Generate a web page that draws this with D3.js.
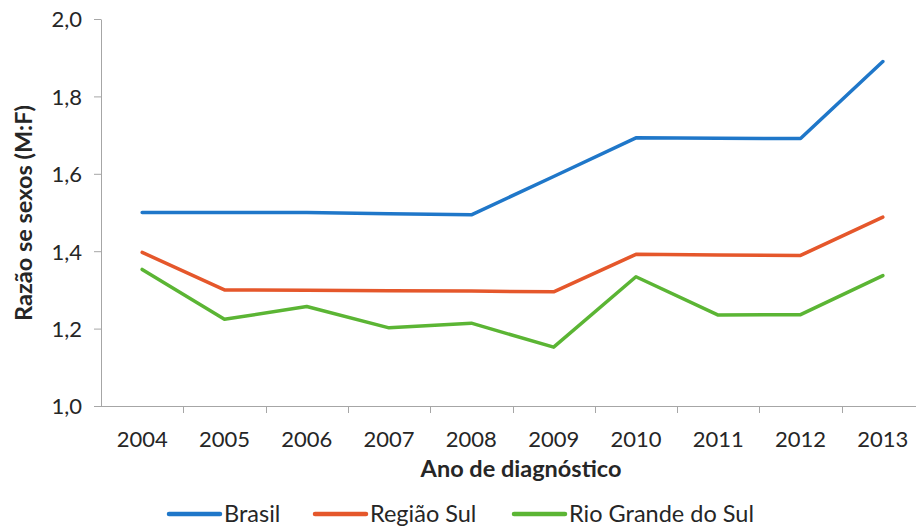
<!DOCTYPE html>
<html>
<head>
<meta charset="utf-8">
<script src="https://cdn.jsdelivr.net/npm/d3@7"></script>
<style>
  body { margin: 0; background: #fff; }
  text { font-family: Lato, "Open Sans", sans-serif; fill: #262626; }
  .axis path, .axis line { stroke: #a6a6a6; }
</style>
</head>
<body>
<div class="chart"></div>
<script>
// Data
var years = ["2004", "2005", "2006", "2007", "2008", "2009", "2010", "2011", "2012", "2013"];
var brasil = [1.50, 1.50, 1.50, 1.497, 1.494, 1.593, 1.693, 1.692, 1.691, 1.89];
var regiaoSul = [1.397, 1.30, 1.299, 1.298, 1.297, 1.295, 1.392, 1.39, 1.389, 1.488];
var rioGrande = [1.353, 1.224, 1.257, 1.202, 1.214, 1.152, 1.334, 1.235, 1.236, 1.337];
var yTicks = [1.0, 1.2, 1.4, 1.6, 1.8, 2.0];

var seriesNames = ["Brasil", "Região Sul", "Rio Grande do Sul"];
var seriesColors = ["#1f77c9", "#e5572b", "#5bb534"];
var seriesValues = [brasil, regiaoSul, rioGrande];

var svgWidth = 916;
var svgHeight = 531;

var svg = d3.select(".chart")
  .append("svg")
  .attr("width", svgWidth)
  .attr("height", svgHeight);

// scales
var xScale = d3.scaleBand()
  .domain(years)
  .range([101, 924])
  .padding(0);

var yScale = d3.scaleLinear()
  .domain([1.0, 2.0])
  .range([406, 19]);

var ptBr = d3.formatLocale({ decimal: ",", thousands: ".", grouping: [3], currency: ["R$", ""] });
var fmt = ptBr.format(".1f");

// y axis
var leftAxis = d3.axisLeft(yScale)
  .tickValues(yTicks)
  .tickFormat(fmt)
  .tickSize(7)
  .tickSizeOuter(0)
  .tickPadding(12);

var yAxis = svg.append("g")
  .attr("class", "axis")
  .attr("transform", "translate(101, 0)")
  .call(leftAxis);
yAxis.selectAll("text").style("font-size", "22px").attr("dy", "0.36em");

// x axis: labels centred in each band, ticks on band edges
var bottomAxis = d3.axisBottom(xScale)
  .tickSize(0)
  .tickPadding(25)
  .tickSizeOuter(0);

var xAxis = svg.append("g")
  .attr("class", "axis")
  .attr("transform", "translate(0, 406)")
  .call(bottomAxis);
xAxis.selectAll("text").style("font-size", "22px");
xAxis.select(".domain").attr("d", "M101,0.5H916");

xAxis.selectAll(".edge-tick")
  .data(years.slice(1))
  .enter()
  .append("line")
  .attr("class", "edge-tick")
  .attr("x1", d => Math.round(xScale(d)) + 0.5)
  .attr("x2", d => Math.round(xScale(d)) + 0.5)
  .attr("y1", 0)
  .attr("y2", 7)
  .attr("stroke", "#a6a6a6");

// lines
var line = d3.line()
  .x((d, i) => xScale(years[i]) + xScale.bandwidth() / 2)
  .y(d => yScale(d));

svg.selectAll(".series")
  .data(seriesValues)
  .enter()
  .append("path")
  .attr("class", "series")
  .attr("d", d => line(d))
  .attr("fill", "none")
  .attr("stroke", (d, i) => seriesColors[i])
  .attr("stroke-width", 3.5)
  .attr("stroke-linejoin", "round")
  .attr("stroke-linecap", "round");

// axis titles
svg.append("text")
  .attr("x", 521)
  .attr("y", 477)
  .attr("text-anchor", "middle")
  .style("font-size", "23.5px")
  .style("font-weight", "bold")
  .text("Ano de diagnóstico");

svg.append("text")
  .attr("transform", "translate(32, 213) rotate(-90)")
  .attr("text-anchor", "middle")
  .style("font-size", "23.5px")
  .style("font-weight", "bold")
  .text("Razão se sexos (M:F)");

// legend
var legendX = [169, 315, 514];
var legend = svg.selectAll(".legend")
  .data(seriesNames)
  .enter()
  .append("g")
  .attr("class", "legend")
  .attr("transform", (d, i) => `translate(${legendX[i]}, 514)`);

legend.append("line")
  .attr("x1", 0)
  .attr("x2", 51)
  .attr("y1", 0)
  .attr("y2", 0)
  .attr("stroke", (d, i) => seriesColors[i])
  .attr("stroke-width", 4.5)
  .attr("stroke-linecap", "round");

legend.append("text")
  .attr("x", 55)
  .attr("y", 8)
  .style("font-size", "23.5px")
  .text(d => d);
</script>
</body>
</html>
